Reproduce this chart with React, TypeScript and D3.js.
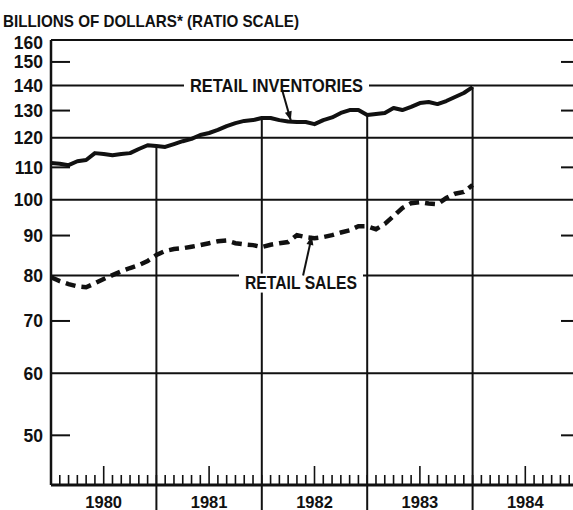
import React from 'react';
import * as d3 from 'd3';

const years = ['1980', '1981', '1982', '1983', '1984'];
const yTickValues = [50, 60, 70, 80, 90, 100, 110, 120, 130, 140, 150, 160];
const fullGridValues = [60, 80, 100, 120, 140, 160];

// monthly readings, Jan 1980 .. Jan 1984 (billions of dollars)
const retailInventories = [
  111.4, 111.2, 110.7, 112.0, 112.4, 114.7, 114.4, 114.0, 114.4, 114.7, 116.1, 117.4,
  117.1, 116.8, 117.8, 118.8, 119.6, 121.0, 121.7, 122.8, 124.2, 125.3, 126.1, 126.4,
  127.2, 127.2, 126.4, 125.9, 125.7, 125.7, 124.9, 126.4, 127.4, 129.1, 130.2, 130.2,
  128.3, 128.7, 129.1, 131.0, 130.2, 131.4, 132.9, 133.3, 132.5, 133.7, 135.3, 136.9,
  139.3,
];
const retailSales = [
  79.6, 78.7, 78.0, 77.5, 77.3, 78.2, 79.2, 80.1, 81.0, 81.8, 82.5, 83.5,
  85.0, 86.0, 86.5, 86.7, 87.1, 87.5, 88.0, 88.5, 88.7, 88.0, 87.7, 87.5,
  87.0, 87.6, 88.0, 88.3, 90.1, 89.6, 89.3, 89.6, 90.1, 90.8, 91.4, 92.5,
  92.5, 91.7, 93.1, 95.3, 97.6, 99.0, 99.3, 98.9, 98.7, 100.5, 101.8, 102.3,
  104.4,
];

const W = 573;
const H = 510;
const FONT = "'Liberation Sans', Arial, sans-serif";
const INK = '#111';

// small filled arrowhead pointing at (x2, y2)
function arrowHead(x1: number, y1: number, x2: number, y2: number, len = 9, half = 3.5) {
  const a = Math.atan2(y2 - y1, x2 - x1);
  const bx = x2 - len * Math.cos(a);
  const by = y2 - len * Math.sin(a);
  const px = -Math.sin(a) * half;
  const py = Math.cos(a) * half;
  return `M${x2},${y2}L${bx + px},${by + py}L${bx - px},${by - py}Z`;
}

export default function App() {
  const x = d3.scaleLinear().domain([0, years.length * 12]).range([51, 578]);
  const y = d3.scaleLog().domain([43.2, 160]).range([485, 40]);

  const left = x(0);
  const right = W;
  const bottom = y(43.2);
  const top = y(160);

  const line = d3.line<number>()
    .x((_, i) => x(i))
    .y(d => y(d));

  const months = d3.range(0, years.length * 12 + 1);

  // annotation arrows
  const invFrom: [number, number] = [x(26.3), y(138.3)];
  const invTo: [number, number] = [x(27.3), y(126.3)];
  const salesFrom: [number, number] = [x(28.7), y(80.0)];
  const salesTo: [number, number] = [x(29.7), y(89.9)];

  return (
    <svg
      width={W}
      height={H}
      viewBox={`0 0 ${W} ${H}`}
      style={{ position: 'absolute', left: 0, top: 0, background: '#fff' }}
      fontFamily={FONT}
    >
      <rect width={W} height={H} fill="#fff" />

      {/* title */}
      <text x={3} y={27} fontSize={17} fontWeight="bold" fill={INK}
        textLength={296} lengthAdjust="spacingAndGlyphs">
        BILLIONS OF DOLLARS* (RATIO SCALE)
      </text>

      {/* horizontal grid lines and short ticks */}
      {yTickValues.map(v => fullGridValues.includes(v) ? (
        <line key={v} x1={left} x2={right} y1={y(v)} y2={y(v)} stroke={INK} strokeWidth={2} />
      ) : (
        <g key={v}>
          <line x1={left} x2={left + 19} y1={y(v)} y2={y(v)} stroke={INK} strokeWidth={2} />
          <line x1={x(60) - 17} x2={x(60)} y1={y(v)} y2={y(v)} stroke={INK} strokeWidth={2} />
        </g>
      ))}

      {/* y tick labels */}
      {yTickValues.map(v => (
        <text key={v} x={43} y={v === 160 ? y(v) + 9 : y(v) + 6.5} textAnchor="end"
          fontSize={17.5} fontWeight="bold" fill={INK}>
          {v}
        </text>
      ))}

      {/* year separators, hanging from the inventory line */}
      {years.slice(1).map((yr, i) => {
        const m = (i + 1) * 12;
        const v = retailInventories[m];
        return (
          <line key={yr} x1={x(m)} x2={x(m)} y1={y(v)} y2={H} stroke={INK} strokeWidth={2} />
        );
      })}

      {/* monthly ticks */}
      {months.map(m => (
        <line key={m} x1={x(m)} x2={x(m)} y1={bottom}
          y2={bottom - (m % 12 === 6 ? 19 : 10)} stroke={INK} strokeWidth={1.6} />
      ))}

      {/* year labels */}
      {years.map((yr, i) => (
        <text key={yr} x={x(i * 12 + 6)} y={508} textAnchor="middle"
          fontSize={16.5} fontWeight="bold" fill={INK}>
          {yr}
        </text>
      ))}

      {/* label knockouts */}
      <rect x={184} y={y(140) - 9} width={185} height={18} fill="#fff" />
      <rect x={239} y={y(80) - 2} width={124} height={19} fill="#fff" />

      <text x={276.5} y={y(140) + 6.5} textAnchor="middle" fontSize={18} fontWeight="bold"
        fill={INK} textLength={173} lengthAdjust="spacingAndGlyphs">
        RETAIL INVENTORIES
      </text>
      <text x={301} y={y(80) + 13.5} textAnchor="middle" fontSize={18} fontWeight="bold"
        fill={INK} textLength={112} lengthAdjust="spacingAndGlyphs">
        RETAIL SALES
      </text>

      {/* series */}
      <path d={line(retailInventories) || ''} fill="none" stroke={INK} strokeWidth={4}
        strokeLinejoin="round" />
      <path d={line(retailSales) || ''} fill="none" stroke={INK} strokeWidth={4.5}
        strokeDasharray="10 6" />

      {/* arrows */}
      <line x1={invFrom[0]} y1={invFrom[1]} x2={invTo[0]} y2={invTo[1]} stroke={INK} strokeWidth={2} />
      <path d={arrowHead(invFrom[0], invFrom[1], invTo[0], invTo[1])} fill={INK} />
      <line x1={salesFrom[0]} y1={salesFrom[1]} x2={salesTo[0]} y2={salesTo[1]} stroke={INK} strokeWidth={2} />
      <path d={arrowHead(salesFrom[0], salesFrom[1], salesTo[0], salesTo[1])} fill={INK} />

      {/* frame */}
      <line x1={left} x2={left} y1={top} y2={bottom} stroke={INK} strokeWidth={2.5} />
      <line x1={left} x2={right} y1={bottom} y2={bottom} stroke={INK} strokeWidth={3} />
    </svg>
  );
}
